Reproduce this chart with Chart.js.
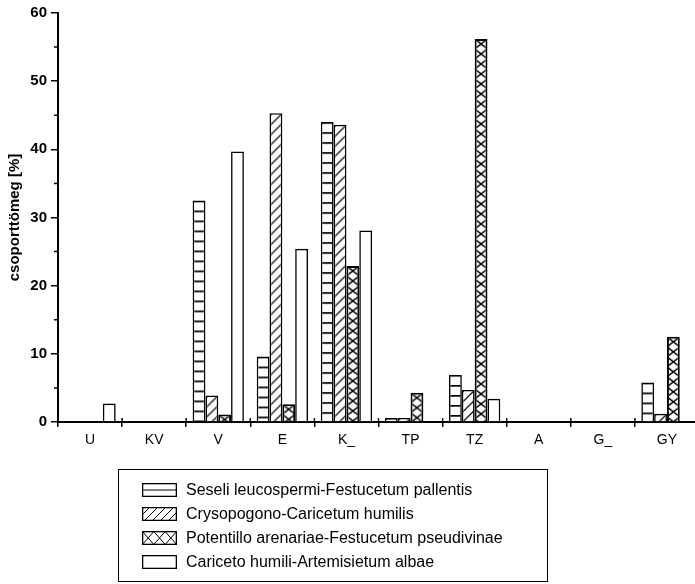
<!DOCTYPE html>
<html><head><meta charset="utf-8">
<script src="https://cdn.jsdelivr.net/npm/chart.js@4"></script>
<style>
html,body{margin:0;padding:0;background:#fff;overflow:hidden;width:695px;height:584px;}
#c{position:absolute;left:0;top:0;}
#legend{position:absolute;left:118px;top:469px;width:428px;height:111px;border:1.5px solid #000;font-family:"Liberation Sans",Arial,sans-serif;font-size:16px;color:#000;}
.row{position:absolute;left:0;height:16px;display:flex;align-items:center;white-space:nowrap;}
.row canvas{margin-left:23px;display:block;}
.row span{margin-left:9px;line-height:16px;}
</style></head><body>
<canvas id="c" width="700" height="460" style="width:700px;height:460px"></canvas>
<div id="legend"></div>
<script>
// ---- data ----
const categories = ['U','KV','V','E','K_','TP','TZ','A','G_','GY'];
const seriesNames = [
  'Seseli leucospermi-Festucetum pallentis',
  'Crysopogono-Caricetum humilis',
  'Potentillo arenariae-Festucetum pseudivinae',
  'Cariceto humili-Artemisietum albae'
];
const seseli      = [0, 0, 32.5, 9.6, 44.0, 0.6, 6.9, 0, 0, 5.8];
const crysopogono = [0, 0, 3.9, 45.3, 43.6, 0.6, 4.7, 0, 0, 1.2];
const potentillo  = [0, 0, 1.1, 2.6, 22.9, 4.3, 56.2, 0, 0, 12.5];
const cariceto    = [2.7, 0, 39.7, 25.4, 28.1, 0, 3.4, 0, 0, 0];
const yMajorStep = 10;
const yMinorTicks = [5, 15, 25, 35, 45, 55];
const patternKinds = ['h', 'd', 'x', 'e'];

// ---- patterns ----
function makeTile(kind, bw, h) {
  const w = Math.ceil(bw) + 1;
  const c = document.createElement('canvas');
  c.width = w; c.height = h;
  const g = c.getContext('2d');
  g.fillStyle = '#fff'; g.fillRect(0, 0, w, h);
  g.strokeStyle = '#000'; g.fillStyle = '#000';
  if (kind === 'h') {
    g.fillRect(0, 0, w, 1.7);
  } else if (kind === 'd') {
    g.lineWidth = 1.2;
    g.beginPath();
    for (let k = -2; k <= 3; k++) {
      g.moveTo(0, k * h + bw);
      g.lineTo(bw, k * h);
    }
    g.stroke();
  } else if (kind === 'x') {
    g.lineWidth = 1.5;
    g.beginPath();
    g.moveTo(0, 0); g.lineTo(bw, h);
    g.moveTo(bw, 0); g.lineTo(0, h);
    g.stroke();
  }
  return c;
}
const scratch = document.createElement('canvas').getContext('2d');
function barFill(kind) {
  return (ctx) => {
    if (kind === 'e') return '#fff';
    if (ctx.type !== 'data') return '#fff';
    const chart = ctx.chart, xs = chart.scales && chart.scales.x, ys = chart.scales && chart.scales.y;
    if (!xs || !ys) return '#fff';
    const catW = (xs.right - xs.left) / categories.length;
    const bw = catW * 0.8 / 4;
    const left = xs.getPixelForValue(ctx.dataIndex) - catW * 0.4 + ctx.datasetIndex * bw;
    const top = ys.getPixelForValue(ctx.raw);
    if (!isFinite(bw) || bw < 1 || !isFinite(left) || !isFinite(top)) return '#fff';
    const pat = scratch.createPattern(makeTile(kind, bw, 10), 'repeat');
    pat.setTransform(new DOMMatrix().translate(left, top));
    return pat;
  };
}

const extraTicks = {
  id: 'extraTicks',
  afterDraw(chart) {
    const { ctx, scales: { x, y } } = chart;
    ctx.save();
    ctx.strokeStyle = '#000';
    ctx.lineWidth = 1.5;
    ctx.beginPath();
    yMinorTicks.forEach(v => {
      const py = y.getPixelForValue(v);
      ctx.moveTo(y.right - 4, py); ctx.lineTo(y.right, py);
    });
    const catW = (x.right - x.left) / categories.length;
    for (let i = 1; i < categories.length; i++) {
      const px = x.left + i * catW;
      ctx.moveTo(px, x.top); ctx.lineTo(px, x.top - 4);
    }
    ctx.stroke();
    ctx.restore();
  }
};

const seriesData = [seseli, crysopogono, potentillo, cariceto];
const font = '"Liberation Sans", Arial, sans-serif';

// ---- legend (HTML, built from the series names) ----
function drawSwatch(cv, kind) {
  const g = cv.getContext('2d');
  const w = cv.width, h = cv.height;
  g.fillStyle = '#fff'; g.fillRect(0, 0, w, h);
  g.strokeStyle = '#000'; g.lineWidth = 1;
  g.save();
  g.beginPath(); g.rect(0.5, 0.5, w - 1, h - 1); g.clip();
  g.beginPath();
  if (kind === 'h') {
    g.moveTo(0, h / 2); g.lineTo(w, h / 2);
  } else if (kind === 'd') {
    for (let x0 = -h; x0 < w + h; x0 += 8) { g.moveTo(x0, h); g.lineTo(x0 + h, 0); }
  } else if (kind === 'x') {
    const cw = (w - 1) / 3;
    for (let i = 0; i < 3; i++) {
      g.moveTo(0.5 + i * cw, 0.5); g.lineTo(0.5 + (i + 1) * cw, h - 0.5);
      g.moveTo(0.5 + (i + 1) * cw, 0.5); g.lineTo(0.5 + i * cw, h - 0.5);
    }
  }
  g.stroke();
  g.restore();
  g.lineWidth = 1.3;
  g.strokeRect(0.65, 0.65, w - 1.3, h - 1.3);
}
const legendEl = document.getElementById('legend');
seriesNames.forEach((name, i) => {
  const row = document.createElement('div');
  row.className = 'row';
  row.style.top = (490 + 24 * i - 469 - 1.5 - 8) + 'px';
  const cv = document.createElement('canvas');
  cv.width = 35; cv.height = 14;
  drawSwatch(cv, patternKinds[i]);
  const sp = document.createElement('span');
  sp.textContent = name;
  row.appendChild(cv); row.appendChild(sp);
  legendEl.appendChild(row);
});

new Chart(document.getElementById('c'), {
  type: 'bar',
  data: {
    labels: categories,
    datasets: seriesData.map((d, i) => ({
      label: seriesNames[i],
      data: d,
      backgroundColor: barFill(patternKinds[i]),
      borderColor: '#000',
      borderWidth: i === 2 ? 2 : 1.6,
      categoryPercentage: 0.8,
      barPercentage: 1.0
    }))
  },
  options: {
    responsive: false,
    animation: false,
    devicePixelRatio: 1,
    layout: { padding: { top: 13, right: 1, left: 0, bottom: 0 } },
    plugins: { legend: { display: false }, tooltip: { enabled: false } },
    scales: {
      x: {
        offset: true,
        grid: { display: true, drawOnChartArea: false, offset: true, tickLength: 5, color: '#000', lineWidth: 1.5 },
        border: { display: true, color: '#000', width: 2 },
        ticks: { color: '#000', font: { family: font, size: 14 }, padding: 5, maxRotation: 0, autoSkip: false },
        afterFit(s) { s.height = 38; }
      },
      y: {
        min: 0, max: 60,
        ticks: { stepSize: yMajorStep, color: '#000', font: { family: font, size: 15, weight: 'bold' }, padding: 4 },
        grid: { drawOnChartArea: false, tickLength: 7, color: '#000', lineWidth: 1.5 },
        border: { color: '#000', width: 2 },
        title: { display: true, text: 'csoporttömeg [%]', color: '#000', font: { family: font, size: 15, weight: 'bold' }, padding: { top: 6, bottom: 0 } },
        afterFit(s) { s.width = 58; }
      }
    }
  },
  plugins: [extraTicks]
});
</script>
</body></html>
